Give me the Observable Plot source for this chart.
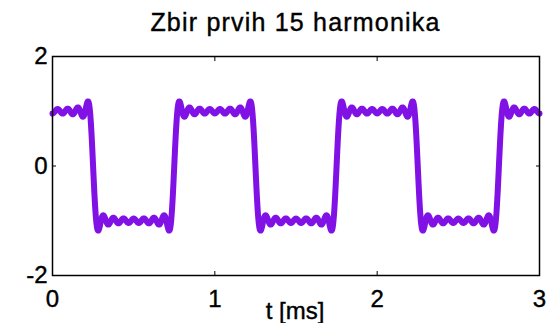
<!DOCTYPE html>
<html>
<head>
<meta charset="utf-8">
<script src="https://cdn.jsdelivr.net/npm/d3@7"></script>
<script src="https://cdn.jsdelivr.net/npm/@observablehq/plot@0.6"></script>
<style>
  html, body { margin: 0; padding: 0; background: #fff; }
  #wrap { width: 549px; height: 323px; position: relative; overflow: hidden; }
  #title { position: absolute; left: 42px; width: 507px; top: 0; height: 40px;
           text-align: center; font-family: "Liberation Sans", Arial, sans-serif;
           font-size: 25px; line-height: 25px; letter-spacing: 1.2px; padding-top: 10px;
           box-sizing: border-box; color: #000; white-space: nowrap;
           -webkit-text-stroke: 0.4px #000; }
  #chart { position: absolute; left: 0; top: 40px; }
  #chart svg text { stroke: #000; stroke-width: 0.4px; }
</style>
</head>
<body>
<div id="wrap">
  <div id="title">Zbir prvih 15 harmonika</div>
  <div id="chart"></div>
</div>
<script>
// Harmonic orders and cosine amplitudes of the partial sum (square wave, period 1 ms)
const harmonicOrders = [1, 3, 5, 7, 9, 11, 13, 15];
const harmonicAmplitudes = [1.2732, -0.4244, 0.2546, -0.1819, 0.1415, -0.1157, 0.0979, -0.0849];
const periodMs = 1;
const xTicks = [0, 1, 2, 3];
const yTicks = [-2, 0, 2];
const xLabel = "t [ms]";

const tSamples = d3.range(0, 3.0001, 0.001);
const signal = tSamples.map(t => ({
  t,
  v: d3.sum(harmonicOrders, (n, i) => harmonicAmplitudes[i] * Math.cos(2 * Math.PI * n * t / periodMs))
}));

const font = '"Liberation Sans", Arial, sans-serif';
const plot = Plot.plot({
  width: 549,
  height: 283,
  marginLeft: 52,
  marginRight: 10,
  marginTop: 16,
  marginBottom: 48,
  style: { fontFamily: font, fontSize: "24px", color: "#000", background: "transparent" },
  x: { domain: [0, 3] },
  y: { domain: [-2, 2] },
  marks: [
    Plot.line(signal, { x: "t", y: "v", stroke: "#8012e6", strokeWidth: 6, strokeLinejoin: "round" }),
    Plot.frame({ stroke: "#000", strokeWidth: 1.5 }),
    Plot.axisX(xTicks, { anchor: "bottom", tickSize: 0, tickPadding: 14, label: null, fontSize: 24, tickFormat: d => String(d) }),
    Plot.axisX(xTicks, { anchor: "bottom", tickSize: -4, text: null, label: null }),
    Plot.axisX(xTicks, { anchor: "top", tickSize: -4, text: null, label: null }),
    Plot.axisY(yTicks, { anchor: "left", tickSize: 0, tickPadding: 5, label: null, fontSize: 24, tickFormat: d => String(d) }),
    Plot.axisY(yTicks, { anchor: "left", tickSize: -4, text: null, label: null }),
    Plot.axisY(yTicks, { anchor: "right", tickSize: -4, text: null, label: null }),
    Plot.text([xLabel], { frameAnchor: "bottom", lineAnchor: "bottom", dy: 43, dx: -1, fontSize: 24, letterSpacing: 1, text: d => d })
  ]
});
document.getElementById("chart").appendChild(plot);
</script>
</body>
</html>
